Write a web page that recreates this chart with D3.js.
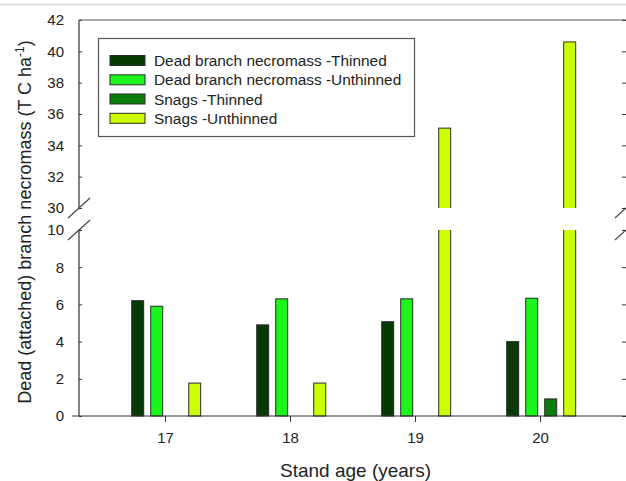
<!DOCTYPE html>
<html>
<head>
<meta charset="utf-8">
<script src="https://cdn.jsdelivr.net/npm/d3@7"></script>
<style>
  html, body { margin: 0; padding: 0; background: #fff; }
  svg { display: block; font-family: "Liberation Sans", Arial, sans-serif; }
</style>
</head>
<body>
<svg id="chart" width="626" height="481"></svg>
<script>
// ---- data ----
const ages = [17, 18, 19, 20];
const seriesNames = [
  "Dead branch necromass -Thinned",
  "Dead branch necromass -Unthinned",
  "Snags -Thinned",
  "Snags -Unthinned"
];
const deadThinned   = [6.2, 4.9, 5.07, 4.0];
const deadUnthinned = [5.9, 6.3, 6.3, 6.33];
const snagsThinned  = [0, 0, 0, 0.92];
const snagsUnthinned = [1.77, 1.77, 35.1, 40.6];
const seriesColors = ["#053a05", "#1cf51c", "#0a7d0a", "#ccff00"];
const yTickValues = [0, 2, 4, 6, 8, 10, 30, 32, 34, 36, 38, 40, 42];
const xTickLabels = ["17", "18", "19", "20"];

const seriesValues = [deadThinned, deadUnthinned, snagsThinned, snagsUnthinned];

const svg = d3.select("#chart");
const pLeft = 79, pRight = 626, pTop = 20, pBottom = 416;

// broken y scale: 0..10 lower panel, 30..42 upper panel
const y = d3.scaleLinear().domain([0, 10, 30, 42]).range([416, 230, 208, 20]);
const x = d3.scaleLinear().domain([16.312, 20.688]).range([pLeft, pRight]);
const inner = d3.scaleBand().domain(d3.range(4)).range([-36.8, 39.2])
  .paddingInner(0.37).paddingOuter(0.185);

const ink = "#333";

// faint top frame line
svg.append("line").attr("x1", 0).attr("x2", 626).attr("y1", 4.5).attr("y2", 4.5)
  .attr("stroke", "#d6d6d6").attr("stroke-width", 1.5);

// bars
const bars = [];
ages.forEach((a, i) => {
  seriesValues.forEach((vals, s) => {
    if (vals[i] > 0) bars.push({ age: a, s: s, v: vals[i] });
  });
});
svg.append("g").selectAll("rect").data(bars).join("rect")
  .attr("x", d => x(d.age) + inner(d.s))
  .attr("width", inner.bandwidth())
  .attr("y", d => y(d.v))
  .attr("height", d => y(0) - y(d.v))
  .attr("fill", d => seriesColors[d.s])
  .attr("stroke", "#2a2a2a")
  .attr("stroke-width", 1);

// break gap mask
svg.append("rect").attr("x", pLeft + 1).attr("width", pRight - pLeft - 2)
  .attr("y", y(30)).attr("height", y(10) - y(30)).attr("fill", "#fff");

// left axis
const yAxis = d3.axisLeft(y).tickValues(yTickValues).tickSizeInner(-3)
  .tickSizeOuter(0).tickPadding(15).tickFormat(d3.format("d"));
const gy = svg.append("g").attr("transform", `translate(${pLeft},0)`).call(yAxis);
gy.select(".domain").remove();
gy.selectAll(".tick line").attr("stroke", ink);
gy.selectAll(".tick text").attr("font-size", 15).attr("fill", "#222")
  .attr("font-family", "Liberation Sans, Arial, sans-serif");

// right axis ticks
const yAxisR = d3.axisRight(y).tickValues(yTickValues).tickSizeInner(-4)
  .tickSizeOuter(0).tickFormat("");
const gyr = svg.append("g").attr("transform", `translate(${pRight},0)`).call(yAxisR);
gyr.select(".domain").remove();
gyr.selectAll(".tick line").attr("stroke", ink);

// axis line segments
const seg = [[y(42), y(30)], [y(10), y(0)]];
seg.forEach(([a, b]) => {
  svg.append("line").attr("x1", pLeft).attr("x2", pLeft).attr("y1", a).attr("y2", b)
    .attr("stroke", ink).attr("stroke-width", 1.2);
});
// top border
svg.append("line").attr("x1", pLeft).attr("x2", pRight).attr("y1", pTop).attr("y2", pTop)
  .attr("stroke", "#555").attr("stroke-width", 1.2);

// break slashes
[pLeft, pRight].forEach(cx => {
  [y(30), y(10)].forEach(cy => {
    svg.append("line").attr("x1", cx - 11).attr("y1", cy + 10)
      .attr("x2", cx + 11).attr("y2", cy - 10)
      .attr("stroke", "#444").attr("stroke-width", 1.2);
  });
});

// x axis
const xAxis = d3.axisBottom(x).tickValues(ages).tickSizeInner(6).tickSizeOuter(0)
  .tickPadding(10).tickFormat((d, i) => xTickLabels[i]);
const gx = svg.append("g").attr("transform", `translate(0,${pBottom})`).call(xAxis);
gx.select(".domain").remove();
gx.selectAll(".tick line").attr("stroke", ink);
gx.selectAll(".tick text").attr("font-size", 15).attr("fill", "#222")
  .attr("font-family", "Liberation Sans, Arial, sans-serif");
svg.append("line").attr("x1", 72).attr("x2", pRight).attr("y1", pBottom).attr("y2", pBottom)
  .attr("stroke", ink).attr("stroke-width", 1.2);

// axis titles
svg.append("text").attr("x", 355.5).attr("y", 477).attr("text-anchor", "middle")
  .attr("font-size", 19).attr("fill", "#222").text("Stand age (years)");

const yt = svg.append("text").attr("transform", "translate(31,222) rotate(-90)")
  .attr("text-anchor", "middle").attr("font-size", 18).attr("fill", "#222");
yt.append("tspan").text("Dead (attached) branch necromass (T C ha");
yt.append("tspan").attr("dy", -7).attr("font-size", 12).text("-1");
yt.append("tspan").attr("dy", 7).text(")");

// legend
const lg = svg.append("g");
lg.append("rect").attr("x", 98.5).attr("y", 38.5).attr("width", 316).attr("height", 98)
  .attr("fill", "#fff").attr("stroke", "#555").attr("stroke-width", 1.2);
const rowY = [60.5, 79.8, 99, 118.3];
seriesNames.forEach((name, i) => {
  lg.append("rect").attr("x", 110).attr("y", rowY[i] - 5).attr("width", 35).attr("height", 10)
    .attr("fill", seriesColors[i]).attr("stroke", "#2a2a2a").attr("stroke-width", 1);
  lg.append("text").attr("x", 154).attr("y", rowY[i]).attr("dy", "0.36em")
    .attr("font-size", 15.4).attr("fill", "#222").text(name);
});
</script>
</body>
</html>
